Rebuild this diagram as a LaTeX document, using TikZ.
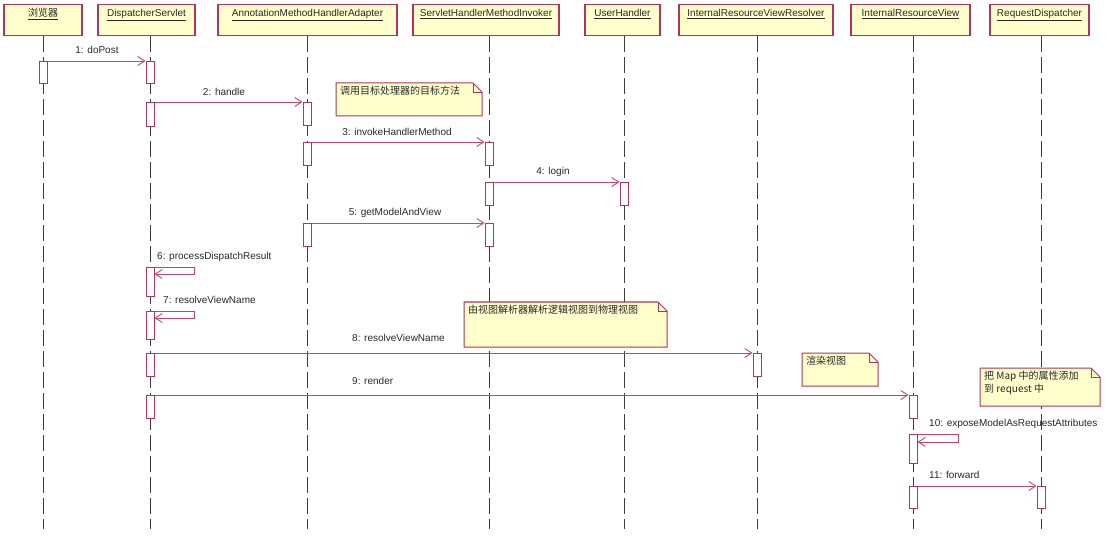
\documentclass[tikz,border=0pt]{standalone}
\usepackage{fontspec}
\setmainfont{Liberation Sans}
\newfontfamily\cjk{Noto Sans CJK SC}
\usetikzlibrary{arrows.meta}
\definecolor{umlred}{RGB}{176,52,92}
\definecolor{msgred}{RGB}{196,70,110}
\definecolor{umlfill}{RGB}{255,255,204}
\definecolor{lifegray}{RGB}{60,60,60}
\definecolor{txt}{RGB}{40,40,40}
\newcommand{\umlnote}[6]{%
  \draw[notepath] (#2,#3) -- (#4-9,#3) -- (#4,#3+9) -- (#4,#5) -- (#2,#5) -- cycle;
  \draw[notefold] (#4-9,#3) -- (#4-9,#3+9) -- (#4,#3+9);
  \node[notetext] (#1) at (#2+4,#3+3) {#6};
}
\begin{document}
\begin{tikzpicture}[x=1pt,y=-1pt,
  header/.style={draw=umlred, line width=1.3pt, fill=umlfill, minimum height=31pt, anchor=north, inner sep=0pt},
  hdr/.style={font=\fontsize{10}{12}\selectfont, text=txt, anchor=base, inner sep=0pt},
  lifeline/.style={draw=lifegray, line width=0.9pt, dash pattern=on 16pt off 5pt},
  act/.style={draw=umlred, line width=1pt, fill=white, minimum width=8pt, anchor=north, inner sep=0pt},
  msg/.style={draw=msgred, line width=0.9pt, -{Straight Barb[length=7pt,width=9pt]}},
  lbl/.style={font=\fontsize{10}{12}\selectfont, text=txt, inner sep=0pt, anchor=base},
  lbll/.style={lbl, anchor=base west},
  notepath/.style={draw=umlred, line width=1pt, fill=umlfill},
  notefold/.style={draw=umlred, line width=0.8pt},
  notetext/.style={font=\cjk\fontsize{10}{12.5}\selectfont, text=txt, anchor=north west, inner sep=0pt, align=left},
]
\fill[white] (0,0) rectangle (1109,540);
\useasboundingbox (0,0) rectangle (1109,540);

% headers
\node[header, minimum width=78pt]  (h1) at (43,4) {};
\node[header, minimum width=97pt]  (h2) at (146.5,4) {};
\node[header, minimum width=179pt] (h3) at (307.5,4) {};
\node[header, minimum width=146pt] (h4) at (486,4) {};
\node[header, minimum width=75pt]  (h5) at (622.5,4) {};
\node[header, minimum width=154pt] (h6) at (756,4) {};
\node[header, minimum width=119pt] (h7) at (910.5,4) {};
\node[header, minimum width=99pt]  (h8) at (1039.5,4) {};
\node[hdr] (t1) at (43,16.5) {\underline{\cjk 浏览器}};
\node[hdr] (t2) at (146.5,16.5) {\underline{DispatcherServlet}};
\node[hdr] (t3) at (307.5,16.5) {\underline{AnnotationMethodHandlerAdapter}};
\node[hdr] (t4) at (486,16.5) {\underline{ServletHandlerMethodInvoker}};
\node[hdr] (t5) at (622.5,16.5) {\underline{UserHandler}};
\node[hdr] (t6) at (756,16.5) {\underline{InternalResourceViewResolver}};
\node[hdr] (t7) at (910.5,16.5) {\underline{InternalResourceView}};
\node[hdr] (t8) at (1039.5,16.5) {\underline{RequestDispatcher}};

% lifelines
\coordinate (l1) at (43,529);
\coordinate (l2) at (150,529);
\coordinate (l3) at (307,529);
\coordinate (l4) at (489,529);
\coordinate (l5) at (624,529);
\coordinate (l6) at (757,529);
\coordinate (l7) at (913,529);
\coordinate (l8) at (1041,529);
\foreach \i in {1,...,8} { \draw[lifeline] (h\i.south -| l\i) -- (l\i); }

% activations
\node[act, minimum height=22pt] (a1)  at (43,61) {};
\node[act, minimum height=22pt] (a2)  at (150,61) {};
\node[act, minimum height=24pt] (a3)  at (150,102) {};
\node[act, minimum height=23pt] (a4)  at (307,102) {};
\node[act, minimum height=23pt] (a5)  at (307,142) {};
\node[act, minimum height=23pt] (a6)  at (489,142) {};
\node[act, minimum height=23pt] (a7)  at (489,182) {};
\node[act, minimum height=23pt] (a8)  at (624,182) {};
\node[act, minimum height=23pt] (a9)  at (307,223) {};
\node[act, minimum height=23pt] (a10) at (489,223) {};
\node[act, minimum height=29pt] (a11) at (150,267) {};
\node[act, minimum height=28pt] (a12) at (150,311) {};
\node[act, minimum height=23pt] (a13) at (150,353) {};
\node[act, minimum height=23pt] (a14) at (757,353) {};
\node[act, minimum height=23pt] (a15) at (150,395) {};
\node[act, minimum height=23pt] (a16) at (913,395) {};
\node[act, minimum height=29pt] (a17) at (913,434) {};
\node[act, minimum height=22pt] (a18) at (913,486) {};
\node[act, minimum height=22pt] (a19) at (1041,486) {};

% messages
\draw[msg] (a1.north east) -- (a2.north west);
\draw[msg] (a3.north east) -- (a4.north west);
\draw[msg] (a5.north east) -- (a6.north west);
\draw[msg] (a7.north east) -- (a8.north west);
\draw[msg] (a9.north east) -- (a10.north west);
\draw[msg] (a11.north east) -- ++(40,0) |- ([yshift=-7pt]a11.north east);
\draw[msg] (a12.north east) -- ++(40,0) |- ([yshift=-7pt]a12.north east);
\draw[msg] (a13.north east) -- (a14.north west);
\draw[msg] (a15.north east) -- (a16.north west);
\draw[msg] (a17.north east) -- ++(41,0) |- ([yshift=-8pt]a17.north east);
\draw[msg] (a18.north east) -- (a19.north west);

% message labels
\node[lbl]  (m1)  at (97,53.5)   {1: doPost};
\node[lbl]  (m2)  at (224,95.5)  {2: handle};
\node[lbl]  (m3)  at (397,135.5) {3: invokeHandlerMethod};
\node[lbl]  (m4)  at (553,174.5) {4: login};
\node[lbl]  (m5)  at (395,215.5) {5: getModelAndView};
\node[lbll] (m6)  at (157,259.5) {6: processDispatchResult};
\node[lbll] (m7)  at (163,303.5) {7: resolveViewName};
\node[lbll] (m8)  at (352,341.5) {8: resolveViewName};
\node[lbll] (m9)  at (352,384.5) {9: render};
\node[lbll] (m10) at (929,426.5) {10: exposeModelAsRequestAttributes};
\node[lbll] (m11) at (929,478.5) {11: forward};

% notes
\umlnote{n1}{336}{83}{482}{116}{调用目标处理器的目标方法}
\umlnote{n2}{464}{302}{667}{347}{由视图解析器解析逻辑视图到物理视图}
\umlnote{n3}{802}{353}{878}{386}{渲染视图}
\umlnote{n4}{980}{368}{1100}{406}{把 Map 中的属性添加\\到 request 中}
\end{tikzpicture}
\end{document}
